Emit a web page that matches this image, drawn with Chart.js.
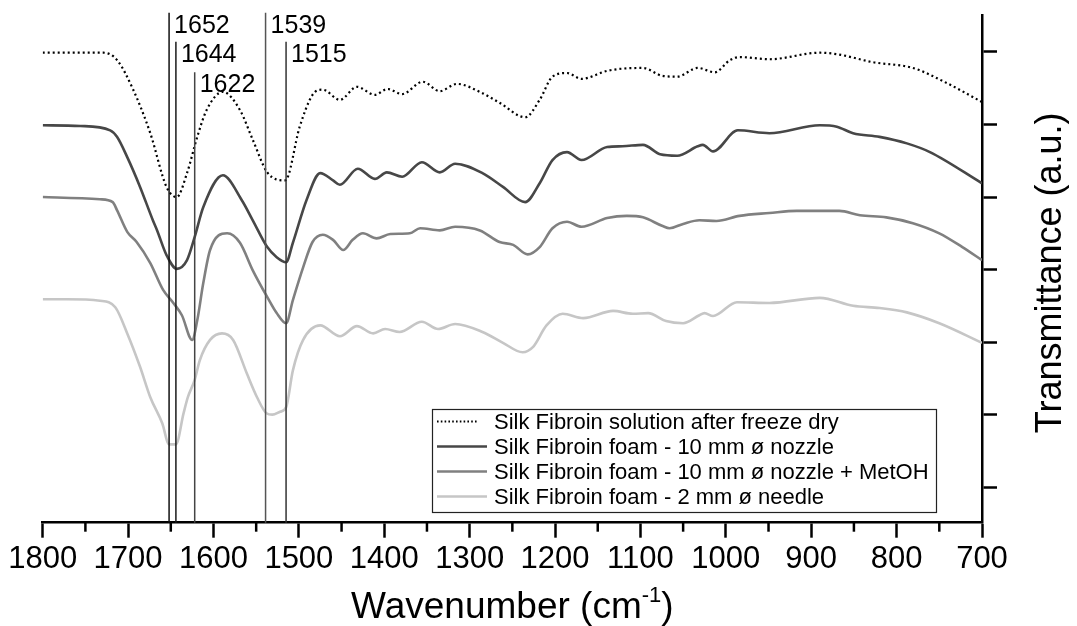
<!DOCTYPE html>
<html><head><meta charset="utf-8">
<script src="https://cdn.jsdelivr.net/npm/chart.js@4.4.0/dist/chart.umd.min.js"></script>
<style>html,body{margin:0;padding:0;background:#fff;}#wrap{width:1077px;height:626px;}</style>
</head><body><div id="wrap"><canvas id="c" width="1077" height="626"></canvas></div>
<script>
// ---------- data ----------
const seriesLabels = [
  'Silk Fibroin solution after freeze dry',
  'Silk Fibroin foam - 10 mm \u00f8 nozzle',
  'Silk Fibroin foam - 10 mm \u00f8 nozzle + MetOH',
  'Silk Fibroin foam - 2 mm \u00f8 needle'
];
const wnFreezeDry = [1800,1729,1713,1694,1674,1655,1643,1631,1619,1608,1589,1569,1554,1537,1516,1499,1484,1472,1452,1432,1411,1396,1379,1355,1335,1315,1288,1265,1235,1218,1203,1186,1169,1139,1121,1097,1074,1057,1033,1013,995,984,949,890,870,828,781,741,700];
const tFreezeDry  = [5.99,5.99,5.89,5.48,4.88,4.14,4.00,4.33,4.83,5.20,5.45,5.20,4.79,4.34,4.23,4.97,5.41,5.48,5.34,5.52,5.41,5.49,5.42,5.59,5.46,5.56,5.45,5.30,5.10,5.34,5.66,5.71,5.63,5.74,5.77,5.78,5.67,5.66,5.78,5.72,5.89,5.93,5.90,5.99,5.97,5.86,5.78,5.57,5.31];

const wnFoam10 = [1800,1756,1721,1713,1701,1686,1671,1666,1655,1643,1631,1622,1612,1589,1567,1554,1537,1526,1515,1507,1491,1475,1460,1452,1431,1411,1397,1379,1356,1335,1317,1285,1261,1235,1218,1203,1186,1169,1139,1121,1097,1077,1057,1033,1027,1015,986,949,890,870,851,820,788,761,700];
const tFoam10  = [4.99,4.98,4.92,4.83,4.55,4.14,3.68,3.54,3.20,3.01,3.13,3.45,3.86,4.30,3.96,3.68,3.31,3.17,3.10,3.37,3.96,4.33,4.23,4.17,4.39,4.25,4.34,4.28,4.48,4.34,4.46,4.33,4.14,3.93,4.19,4.51,4.62,4.51,4.69,4.70,4.72,4.59,4.57,4.70,4.72,4.63,4.92,4.88,4.99,4.97,4.88,4.83,4.74,4.62,4.19];

const wnFoam10MetOH = [1800,1733,1718,1713,1701,1690,1674,1659,1647,1637,1625,1619,1612,1604,1584,1569,1554,1537,1526,1515,1507,1495,1484,1472,1460,1448,1437,1425,1409,1393,1370,1358,1335,1317,1288,1265,1249,1232,1218,1203,1186,1169,1139,1116,1097,1074,1066,1050,1031,1011,984,949,917,890,867,843,812,781,750,723,700];
const tFoam10MetOH  = [4.00,3.97,3.93,3.82,3.52,3.38,3.09,2.72,2.54,2.37,2.03,2.30,2.81,3.27,3.50,3.37,2.99,2.62,2.40,2.26,2.58,3.03,3.38,3.48,3.41,3.27,3.41,3.50,3.43,3.49,3.50,3.57,3.54,3.59,3.54,3.38,3.34,3.21,3.31,3.57,3.66,3.59,3.71,3.74,3.72,3.60,3.57,3.63,3.68,3.67,3.74,3.78,3.81,3.81,3.81,3.75,3.72,3.64,3.50,3.31,3.13];

const wnFoam2 = [1800,1772,1733,1715,1701,1686,1674,1660,1652,1644,1635,1630,1622,1616,1604,1590,1577,1561,1549,1538,1531,1522,1515,1507,1495,1475,1452,1432,1413,1399,1382,1356,1337,1317,1285,1261,1238,1226,1210,1191,1167,1132,1109,1091,1070,1050,1031,1025,1015,987,949,890,851,820,788,750,700];
const tFoam2  = [2.59,2.59,2.57,2.48,2.12,1.66,1.24,0.88,0.59,0.59,1.02,1.24,1.48,1.75,2.03,2.12,2.03,1.57,1.24,1.02,1.00,1.04,1.10,1.61,2.03,2.23,2.08,2.22,2.12,2.18,2.14,2.28,2.18,2.25,2.14,1.99,1.86,1.93,2.23,2.39,2.33,2.43,2.39,2.40,2.29,2.26,2.37,2.40,2.36,2.55,2.54,2.61,2.50,2.47,2.41,2.26,1.99];

const xTicks = [1800,1700,1600,1500,1400,1300,1200,1100,1000,900,800,700];
const xMinorTicks = [1750,1650,1550,1450,1350,1250,1150,1050,950,850,750];
const yTicks = [0,1,2,3,4,5,6];
const peakWavenumbers = [1652,1644,1622,1539,1515];
const peakLabels = ['1652','1644','1622','1539','1515'];

// ---------- styling ----------
const FONT = '"Liberation Sans", Arial, Helvetica, sans-serif';
const seriesColors = ['#000000','#474747','#808080','#c6c6c6'];
const peakColors = ['#111111','#1a1a1a','#444444','#555555','#333333'];
const peakTopValues = [6.54, 6.14, 5.72, 6.54, 6.14];

function pts(xs, ys){ return xs.map((x,i)=>({x:x, y:ys[i]})); }

const datasets = [
  {label: seriesLabels[0], data: pts(wnFreezeDry,tFreezeDry), borderColor: seriesColors[0], borderWidth: 2.2, borderDash:[2,3]},
  {label: seriesLabels[1], data: pts(wnFoam10,tFoam10), borderColor: seriesColors[1], borderWidth: 2.6},
  {label: seriesLabels[2], data: pts(wnFoam10MetOH,tFoam10MetOH), borderColor: seriesColors[2], borderWidth: 2.6},
  {label: seriesLabels[3], data: pts(wnFoam2,tFoam2), borderColor: seriesColors[3], borderWidth: 2.6}
].map(d => Object.assign(d, {pointRadius:0, fill:false, cubicInterpolationMode:'monotone'}));

const decor = {
  id: 'decor',
  afterDatasetsDraw(chart){
    const ctx = chart.ctx, xs = chart.scales.x, ys = chart.scales.y, ca = chart.chartArea;
    ctx.save();
    ctx.font = '25px ' + FONT;
    ctx.textAlign = 'left';
    ctx.textBaseline = 'alphabetic';
    peakWavenumbers.forEach((wn,i)=>{
      const px = xs.getPixelForValue(wn);
      const top = ys.getPixelForValue(peakTopValues[i]);
      ctx.strokeStyle = peakColors[i];
      ctx.lineWidth = 1.5;
      ctx.beginPath(); ctx.moveTo(px, top); ctx.lineTo(px, ca.bottom); ctx.stroke();
      ctx.fillStyle = '#000';
      ctx.fillText(peakLabels[i], px + 5, top + 20);
    });
    ctx.restore();
  },
  afterDraw(chart){
    const ctx = chart.ctx, xs = chart.scales.x, ca = chart.chartArea;
    ctx.save();
    ctx.strokeStyle = '#000'; ctx.lineWidth = 2.5;
    xMinorTicks.forEach(v=>{
      const px = xs.getPixelForValue(v);
      ctx.beginPath(); ctx.moveTo(px, ca.bottom); ctx.lineTo(px, ca.bottom + 9); ctx.stroke();
    });
    // legend
    const L = {left: 432, top: 409, right: 936, bottom: 512};
    ctx.fillStyle = '#fff';
    ctx.fillRect(L.left, L.top, L.right-L.left, L.bottom-L.top);
    ctx.strokeStyle = '#222'; ctx.lineWidth = 1.2; ctx.setLineDash([]);
    ctx.strokeRect(L.left+0.5, L.top+0.5, L.right-L.left, L.bottom-L.top);
    ctx.font = '22px ' + FONT; ctx.textBaseline = 'middle'; ctx.textAlign = 'left'; ctx.fillStyle = '#000';
    chart.data.datasets.forEach((d,i)=>{
      const y = L.top + 12.5 + i*25;
      ctx.strokeStyle = d.borderColor;
      if (d.borderDash){ ctx.lineWidth = 1.8; ctx.setLineDash([1.6,2.2]); }
      else { ctx.lineWidth = 2.6; ctx.setLineDash([]); }
      ctx.beginPath(); ctx.moveTo(L.left+5, y); ctx.lineTo(L.left+ (d.borderDash?46:55), y); ctx.stroke();
      ctx.setLineDash([]);
      ctx.fillText(d.label, L.left + 62, y + 1);
    });
    // x axis title with superscript
    ctx.fillStyle = '#000';
    ctx.textBaseline = 'alphabetic';
    const big = '37px ' + FONT, small = '22px ' + FONT;
    const t1 = 'Wavenumber (cm', t2 = '-1', t3 = ')';
    ctx.font = big; const w1 = ctx.measureText(t1).width, w3 = ctx.measureText(t3).width;
    ctx.font = small; const w2 = ctx.measureText(t2).width;
    const total = w1 + w2 + w3;
    let x0 = (ca.left + ca.right)/2 - total/2;
    const base = 618;
    ctx.font = big; ctx.textAlign='left'; ctx.fillText(t1, x0, base);
    ctx.font = small; ctx.fillText(t2, x0 + w1, base - 16);
    ctx.font = big; ctx.fillText(t3, x0 + w1 + w2, base);
    // y axis title (reads bottom to top)
    ctx.translate(1051, (ca.top + ca.bottom)/2 + 4);
    ctx.rotate(-Math.PI/2);
    ctx.textAlign = 'center'; ctx.textBaseline = 'middle';
    ctx.font = '36px ' + FONT;
    ctx.fillText('Transmittance (a.u.)', 0, 0);
    ctx.restore();
  }
};

new Chart(document.getElementById('c'), {
  type: 'line',
  data: { datasets },
  options: {
    responsive: false,
    animation: false,
    devicePixelRatio: 1,
    layout: { padding: { left: 42.7, top: 15, right: 0, bottom: 0 } },
    plugins: { legend: { display: false }, tooltip: { enabled: false } },
    scales: {
      x: {
        type: 'linear', position: 'bottom', reverse: true, min: 700, max: 1800,
        afterBuildTicks: s => { s.ticks = xTicks.map(v => ({value: v})); },
        afterFit: s => { s.height = 103.3; },
        grid: { drawOnChartArea: false, drawTicks: true, tickLength: 15, tickWidth: 2.5, tickColor: '#000' },
        border: { display: true, width: 2.5, color: '#000' },
        ticks: { color: '#000', font: { family: FONT, size: 31 }, padding: 3, maxRotation: 0, autoSkip: false,
                 callback: v => String(v) }
      },
      y: {
        type: 'linear', position: 'right', min: -0.49, max: 6.51,
        afterBuildTicks: s => { s.ticks = yTicks.map(v => ({value: v})); },
        afterFit: s => { s.width = 95; },
        grid: { drawOnChartArea: false, drawTicks: true, tickLength: 15, tickWidth: 2.5, tickColor: '#000' },
        border: { display: true, width: 2.5, color: '#000' },
        ticks: { display: true, callback: () => '' }
      }
    }
  },
  plugins: [decor]
});
</script></body></html>
